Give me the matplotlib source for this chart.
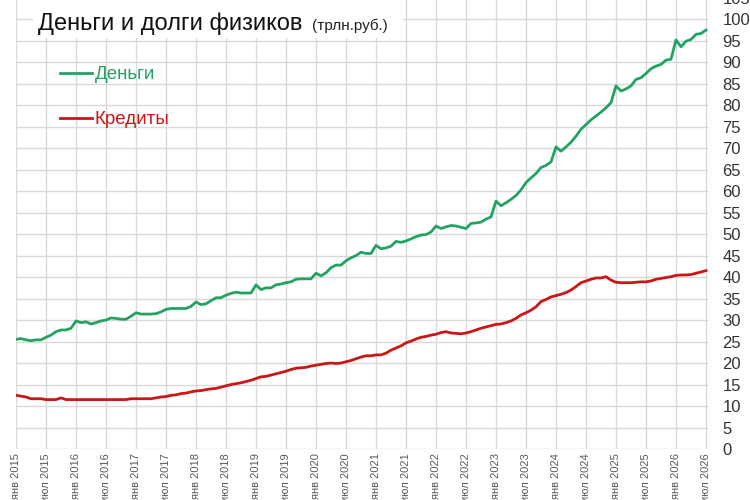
import matplotlib
matplotlib.use("Agg")
import matplotlib.pyplot as plt
import numpy as np
from matplotlib.patches import Rectangle

# месячные данные янв 2015 - июл 2026, трлн руб.
dengi = [
    25.5, 25.7, 25.4, 25.2, 25.4, 25.4, 26.0, 26.5, 27.3, 27.7, 27.7, 28.1,
    29.8, 29.4, 29.6, 29.1, 29.4, 29.8, 30.0, 30.5, 30.4, 30.2, 30.2, 30.9,
    31.7, 31.4, 31.4, 31.4, 31.5, 31.9, 32.5, 32.7, 32.7, 32.7, 32.7, 33.2,
    34.2, 33.6, 33.8, 34.5, 35.2, 35.2, 35.8, 36.2, 36.5, 36.3, 36.3, 36.3,
    38.2, 37.1, 37.5, 37.5, 38.2, 38.4, 38.7, 38.9, 39.5, 39.6, 39.6, 39.6,
    40.9, 40.3, 41.0, 42.2, 42.8, 42.8, 43.8, 44.5, 45.0, 45.8, 45.5, 45.5,
    47.4, 46.6, 46.8, 47.2, 48.3, 48.1, 48.4, 48.9, 49.4, 49.8, 49.9, 50.5,
    51.9, 51.3, 51.7, 52.0, 51.9, 51.6, 51.3, 52.5, 52.6, 52.8, 53.5, 54.0,
    57.7, 56.6, 57.3, 58.1, 59.0, 60.3, 62.0, 63.1, 64.1, 65.5, 66.0, 66.8,
    70.3, 69.3, 70.3, 71.4, 72.8, 74.4, 75.5, 76.6, 77.5, 78.4, 79.4, 80.6,
    84.5, 83.3, 83.8, 84.5, 86.0, 86.4, 87.4, 88.5, 89.1, 89.5, 90.5, 90.7,
    95.2, 93.6, 94.9, 95.3, 96.5, 96.7, 97.5,
]
kredity = [
    12.5, 12.3, 12.1, 11.7, 11.7, 11.7, 11.5, 11.5, 11.5, 11.9, 11.5, 11.5,
    11.5, 11.5, 11.5, 11.5, 11.5, 11.5, 11.5, 11.5, 11.5, 11.5, 11.5, 11.7,
    11.7, 11.7, 11.7, 11.7, 11.9, 12.1, 12.2, 12.5, 12.6, 12.9, 13.0, 13.3,
    13.5, 13.6, 13.8, 14.0, 14.1, 14.4, 14.7, 15.0, 15.2, 15.4, 15.7, 16.0,
    16.4, 16.8, 16.9, 17.2, 17.5, 17.8, 18.1, 18.5, 18.8, 18.9, 19.0, 19.3,
    19.5, 19.7, 19.9, 20.0, 19.9, 20.0, 20.3, 20.6, 21.0, 21.4, 21.7, 21.7,
    21.9, 21.9, 22.3, 23.0, 23.5, 24.0, 24.7, 25.1, 25.6, 26.0, 26.2, 26.5,
    26.7, 27.1, 27.3, 27.0, 26.9, 26.8, 27.0, 27.3, 27.7, 28.1, 28.4, 28.7,
    29.0, 29.1, 29.4, 29.8, 30.4, 31.2, 31.7, 32.3, 33.1, 34.3, 34.8, 35.4,
    35.7, 36.0, 36.4, 37.0, 37.8, 38.7, 39.1, 39.5, 39.8, 39.8, 40.1, 39.3,
    38.8, 38.7, 38.7, 38.7, 38.8, 38.9, 38.9, 39.1, 39.5, 39.7, 39.9, 40.1,
    40.4, 40.5, 40.5, 40.6, 40.9, 41.2, 41.5,
]
years = list(range(2015, 2027))
tick_labels = [f"{m} {y}" for y in years for m in ("янв", "июл")]

green = "#22a364"
red = "#cc1616"
narrow = ["Liberation Sans Narrow", "Liberation Sans", "DejaVu Sans"]
W, H = 750, 500

plt.rcParams["font.family"] = ["Liberation Sans", "DejaVu Sans"]

fig = plt.figure(figsize=(W / 100, H / 100), dpi=100)
ax = fig.add_axes([16 / W, (H - 449) / H, (708 - 16) / W, (449 + 2.2) / H])

x = np.arange(len(dengi))
ax.plot(x, dengi, color=green, lw=2.0, label="Деньги", zorder=3)
ax.plot(x, kredity, color=red, lw=2.0, label="Кредиты", zorder=3)

ax.set_xlim(0, 138.4)
ax.set_ylim(0, 105)
ax.set_xticks(np.arange(0, 6 * len(tick_labels), 6))
ax.set_xticklabels(tick_labels, rotation=90, fontsize=8, color="#595959")
ax.set_yticks(np.arange(0, 106, 5))
ax.yaxis.tick_right()
for t in ax.get_yticklabels():
    t.set_fontfamily(narrow)
    t.set_fontsize(12)
    t.set_color("#333333")
ax.tick_params(axis="x", length=0, pad=3)
ax.tick_params(axis="y", length=0, pad=10.5)
ax.grid(color="#d9d9d9", lw=1)
ax.set_axisbelow(True)
for s in ax.spines.values():
    s.set_visible(False)

leg = ax.legend(loc="upper left", bbox_to_anchor=(60 / W, (H - 66) / H),
                bbox_transform=fig.transFigure, frameon=False, borderpad=0,
                borderaxespad=0, handlelength=1.7, handletextpad=0.16,
                labelspacing=1.5, labelcolor="linecolor",
                prop={"family": narrow, "size": 13.5})

# белая плашка под заголовком
fig.patches.append(Rectangle((33 / W, (H - 38) / H), 370 / W, 38 / H,
                             transform=fig.transFigure, facecolor="white",
                             edgecolor="none", zorder=2))
fig.text(38 / W, (H - 30) / H, "Деньги и долги физиков", fontsize=17,
         color="#111111", va="baseline", zorder=4)
fig.text(312 / W, (H - 30) / H, "(трлн.руб.)", fontsize=11,
         color="#222222", va="baseline", zorder=4)

fig.savefig("out.png", dpi=100)
